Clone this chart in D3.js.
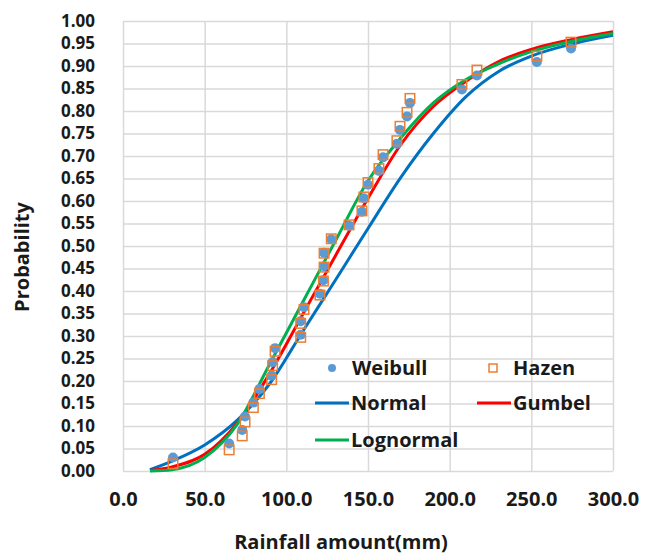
<!DOCTYPE html>
<html>
<head>
<meta charset="utf-8">
<script src="https://cdn.jsdelivr.net/npm/d3@7"></script>
<style>
  body { margin: 0; background: #fff; }
  text { font-family: "Open Sans", Lato, sans-serif; font-weight: bold; fill: #1a1a1a; }
</style>
</head>
<body>
<div id="chart"></div>
<script>
// ────────────────────────────────────────────────────────────────────────────
// data
// ────────────────────────────────────────────────────────────────────────────
const rainfall = [30.6, 65.0, 73.0, 74.7, 79.8, 83.5, 91.0, 91.6, 93.1, 108.8, 108.8,
  110.8, 120.6, 122.7, 123.1, 123.1, 127.5, 138.4, 146.3, 147.5, 150.0, 156.7, 159.2,
  167.7, 169.6, 173.9, 175.7, 207.5, 216.7, 253.4, 274.3];
const weibull = [0.030, 0.061, 0.091, 0.121, 0.152, 0.182, 0.212, 0.242, 0.273, 0.303,
  0.333, 0.364, 0.394, 0.424, 0.455, 0.485, 0.515, 0.545, 0.576, 0.606, 0.636, 0.667,
  0.697, 0.727, 0.758, 0.788, 0.818, 0.848, 0.879, 0.909, 0.939];
const hazen = [0.016, 0.047, 0.078, 0.109, 0.141, 0.172, 0.203, 0.234, 0.266, 0.297,
  0.328, 0.359, 0.391, 0.422, 0.453, 0.484, 0.516, 0.547, 0.578, 0.609, 0.641, 0.672,
  0.703, 0.734, 0.766, 0.797, 0.828, 0.859, 0.891, 0.922, 0.953];

// fitted curves, sampled at these rainfall amounts
const curveX    = [16.5, 30, 50, 70, 90, 110, 130, 150, 170, 190, 210, 230, 250, 275, 300];
const normal    = [0.003, 0.022, 0.058, 0.113, 0.195, 0.31, 0.424, 0.539, 0.652, 0.75, 0.832, 0.888, 0.922, 0.949, 0.968];
const gumbel    = [0.001, 0.009, 0.037, 0.107, 0.218, 0.348, 0.478, 0.606, 0.725, 0.81, 0.866, 0.91, 0.937, 0.959, 0.976];
const lognormal = [0.0, 0.003, 0.03, 0.104, 0.239, 0.375, 0.511, 0.645, 0.74, 0.818, 0.87, 0.905, 0.932, 0.955, 0.972];

const xTicks = [0, 50, 100, 150, 200, 250, 300];
const yTicks = [0, 0.05, 0.10, 0.15, 0.20, 0.25, 0.30, 0.35, 0.40, 0.45, 0.50,
  0.55, 0.60, 0.65, 0.70, 0.75, 0.80, 0.85, 0.90, 0.95, 1.00];

// ────────────────────────────────────────────────────────────────────────────
// frame
// ────────────────────────────────────────────────────────────────────────────
const W = 656, H = 557;
const plot = { left: 123, right: 613, top: 21, bottom: 471 };
const fontSize = "20px";

const svg = d3.select("#chart").append("svg")
  .attr("width", W).attr("height", H);

const x = d3.scaleLinear().domain([0, 300]).range([plot.left, plot.right]);
const y = d3.scaleLinear().domain([0, 1]).range([plot.bottom, plot.top]);

// gridlines
const grid = "#d9d9d9";
svg.append("g")
  .attr("transform", `translate(0,${plot.bottom})`)
  .call(d3.axisBottom(x).tickValues(xTicks).tickSize(-(plot.bottom - plot.top)).tickFormat(""))
  .call(g => g.select(".domain").remove())
  .selectAll("line").attr("stroke", grid).attr("stroke-width", 1.5);

svg.append("g")
  .attr("transform", `translate(${plot.left},0)`)
  .call(d3.axisLeft(y).tickValues(yTicks).tickSize(-(plot.right - plot.left)).tickFormat(""))
  .call(g => g.select(".domain").remove())
  .selectAll("line").attr("stroke", grid).attr("stroke-width", 1.5);

// tick labels
const styleTicks = size => sel => sel.selectAll("text")
  .style("font-size", size).style("font-weight", "bold")
  .style("font-family", "'Open Sans', Lato, sans-serif").attr("fill", "#1a1a1a");

svg.append("g")
  .attr("transform", `translate(0,${plot.bottom + 18})`)
  .call(d3.axisBottom(x).tickValues(xTicks).tickSize(0).tickFormat(d3.format(".1f")))
  .call(g => g.select(".domain").remove())
  .call(styleTicks(fontSize));

svg.append("g")
  .attr("transform", `translate(${plot.left - 25},0)`)
  .call(d3.axisLeft(y).tickValues(yTicks).tickSize(0).tickFormat(d3.format(".2f")))
  .call(g => g.select(".domain").remove())
  .call(styleTicks("17px"));

// axis titles
svg.append("text")
  .attr("x", 341).attr("y", 549)
  .attr("text-anchor", "middle")
  .style("font-size", fontSize)
  .text("Rainfall amount(mm)");

svg.append("text")
  .attr("transform", "rotate(-90)")
  .attr("x", -257).attr("y", 29)
  .attr("text-anchor", "middle")
  .style("font-size", fontSize)
  .text("Probability");

// ────────────────────────────────────────────────────────────────────────────
// curves
// ────────────────────────────────────────────────────────────────────────────
const series = [
  { name: "Normal",    values: normal,    color: "#0070c0" },
  { name: "Gumbel",    values: gumbel,    color: "#ff0000" },
  { name: "Lognormal", values: lognormal, color: "#00b050" }
];

const line = d3.line()
  .x(d => x(d[0]))
  .y(d => y(d[1]))
  .curve(d3.curveMonotoneX);

series.forEach(s => {
  svg.append("path")
    .datum(curveX.map((v, i) => [v, s.values[i]]))
    .attr("fill", "none")
    .attr("stroke", s.color)
    .attr("stroke-width", 3)
    .attr("d", line);
});

// ────────────────────────────────────────────────────────────────────────────
// plotting positions
// ────────────────────────────────────────────────────────────────────────────
svg.append("g").selectAll("circle")
  .data(rainfall.map((v, i) => [v, weibull[i]]))
  .join("circle")
    .attr("cx", d => x(d[0]))
    .attr("cy", d => y(d[1]))
    .attr("r", 5)
    .attr("fill", "#5b9bd5");

const sq = 9.5;
svg.append("g").selectAll("rect")
  .data(rainfall.map((v, i) => [v, hazen[i]]))
  .join("rect")
    .attr("x", d => x(d[0]) - sq / 2)
    .attr("y", d => y(d[1]) - sq / 2)
    .attr("width", sq).attr("height", sq)
    .attr("fill", "none")
    .attr("stroke", "#ed7d31")
    .attr("stroke-width", 1.5);

// ────────────────────────────────────────────────────────────────────────────
// legend
// ────────────────────────────────────────────────────────────────────────────
const leg = svg.append("g").style("font-size", fontSize);

leg.append("circle").attr("cx", 332).attr("cy", 368).attr("r", 4).attr("fill", "#5b9bd5");
leg.append("text").attr("x", 352).attr("y", 375).text("Weibull");

leg.append("rect").attr("x", 489).attr("y", 364).attr("width", 8).attr("height", 8)
  .attr("fill", "none").attr("stroke", "#ed7d31").attr("stroke-width", 1.5);
leg.append("text").attr("x", 513).attr("y", 375).text("Hazen");

const legLines = [
  { s: series[0], lx: 315, ly: 403 },
  { s: series[1], lx: 477, ly: 403 },
  { s: series[2], lx: 315, ly: 440 }
];
legLines.forEach(d => {
  leg.append("line")
    .attr("x1", d.lx).attr("x2", d.lx + 34)
    .attr("y1", d.ly).attr("y2", d.ly)
    .attr("stroke", d.s.color).attr("stroke-width", 3);
  leg.append("text").attr("x", d.lx + 36).attr("y", d.ly + 7).text(d.s.name);
});
</script>
</body>
</html>
